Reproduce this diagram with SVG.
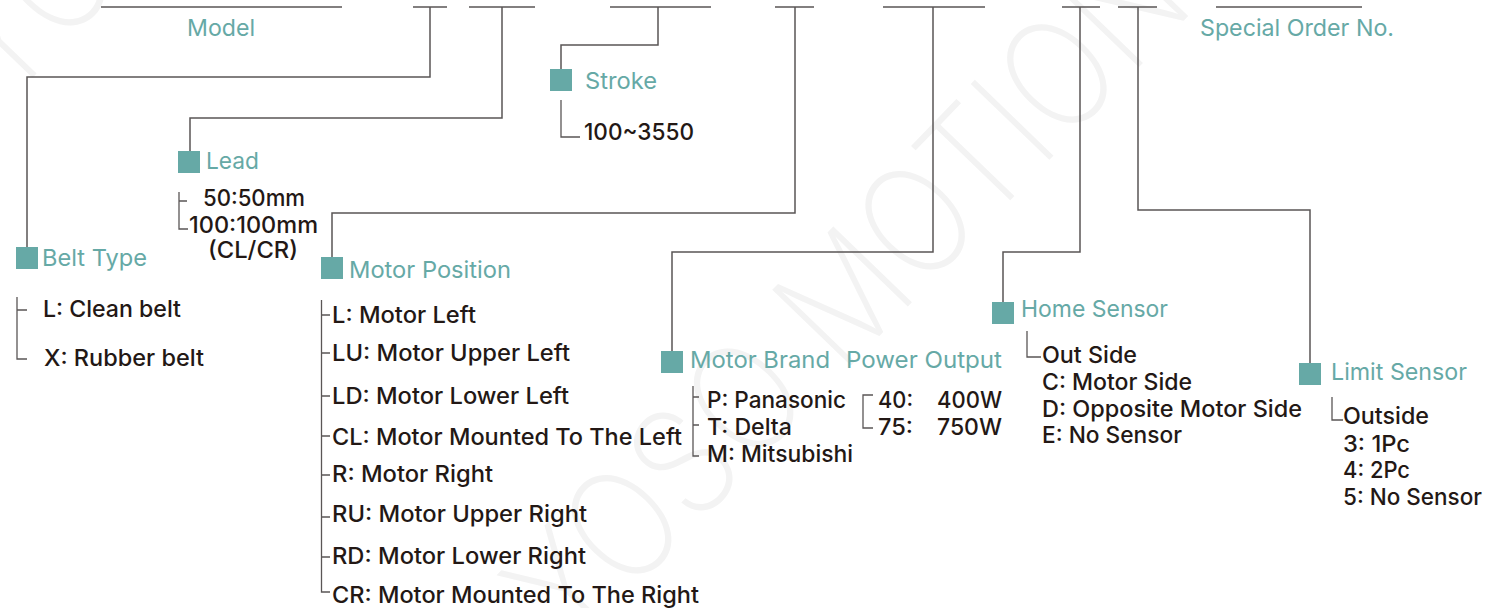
<svg xmlns="http://www.w3.org/2000/svg" width="1490" height="608" viewBox="0 0 1490 608">
<style>
.wm{font-family:Inter,"DejaVu Sans",sans-serif;font-weight:200;font-size:150px;fill:#f3f3f3}
.t{font-family:Inter,"Noto Sans",sans-serif;font-size:23.5px;fill:#66a9a6}
.b{font-family:Inter,"Noto Sans",sans-serif;font-size:23px;font-weight:500;fill:#231815}
.ln{fill:none;stroke:#595656;stroke-width:1.5}
.bk{fill:none;stroke:#5a5656;stroke-width:1.3}
.sq{fill:#66a9a6}
</style>
<rect width="1490" height="608" fill="#ffffff"/>
<g id="watermark">
<text class="wm" x="885" y="330" text-anchor="middle" textLength="900" lengthAdjust="spacingAndGlyphs" transform="rotate(-46 885 330)">YOSO MOTION</text>
<text class="wm" x="318" y="-218" text-anchor="middle" textLength="900" lengthAdjust="spacingAndGlyphs" transform="rotate(-46 318 -218)">YOSO MOTION</text>
</g>
<g id="connectors">
<path class="ln" d="M101,7H342M413,7H447M469,7H535M610,7H711M775,7H814M883,7H985M1062,7H1100M1118,7H1157M1216,7H1362"/>
<path class="ln" d="M430,7V77H27V248"/>
<path class="ln" d="M502,7V118H190V152"/>
<path class="ln" d="M658,7V45H561V70"/>
<path class="ln" d="M795,7V213H332V258"/>
<path class="ln" d="M933,7V252H672V352"/>
<path class="ln" d="M1080,7V252H1003V303"/>
<path class="ln" d="M1138,7V210H1310V364"/>
</g>
<g id="model"><text class="t" x="187" y="36" textLength="68" lengthAdjust="spacingAndGlyphs">Model</text></g>
<g id="special"><text class="t" x="1200" y="36" textLength="194" lengthAdjust="spacingAndGlyphs">Special Order No.</text></g>
<g id="belt-type">
<rect class="sq" x="16" y="247" width="22" height="22"/>
<text class="t" x="42" y="266" textLength="105" lengthAdjust="spacingAndGlyphs">Belt Type</text>
<path class="bk" d="M17,297V359H27M17,310H27"/>
<text class="b" x="43" y="317" textLength="138" lengthAdjust="spacingAndGlyphs">L: Clean belt</text>
<text class="b" x="44" y="366" textLength="160" lengthAdjust="spacingAndGlyphs">X: Rubber belt</text>
</g>
<g id="lead">
<rect class="sq" x="178" y="151" width="22" height="22"/>
<text class="t" x="206" y="169" textLength="53" lengthAdjust="spacingAndGlyphs">Lead</text>
<path class="bk" d="M179,192V229H188M179,201H187"/>
<text class="b" x="203" y="206" textLength="102" lengthAdjust="spacingAndGlyphs">50:50mm</text>
<text class="b" x="189" y="233" textLength="129" lengthAdjust="spacingAndGlyphs">100:100mm</text>
<text class="b" x="208" y="258" textLength="90" lengthAdjust="spacingAndGlyphs">(CL/CR)</text>
</g>
<g id="stroke">
<rect class="sq" x="550" y="69" width="22" height="22"/>
<text class="t" x="585" y="89" textLength="72" lengthAdjust="spacingAndGlyphs">Stroke</text>
<path class="bk" d="M561,100V137H580"/>
<text class="b" x="584" y="140" textLength="110" lengthAdjust="spacingAndGlyphs">100~3550</text>
</g>
<g id="motor-position">
<rect class="sq" x="321" y="257" width="22" height="22"/>
<text class="t" x="349" y="278" textLength="162" lengthAdjust="spacingAndGlyphs">Motor Position</text>
<path class="bk" d="M321.5,300V592H330M321.5,315H330M321.5,353H330M321.5,396H330M321.5,436H330M321.5,475H330M321.5,517H330M321.5,557H330"/>
<text class="b" x="332" y="323" textLength="144" lengthAdjust="spacingAndGlyphs">L: Motor Left</text>
<text class="b" x="332" y="361" textLength="238" lengthAdjust="spacingAndGlyphs">LU: Motor Upper Left</text>
<text class="b" x="332" y="404" textLength="237" lengthAdjust="spacingAndGlyphs">LD: Motor Lower Left</text>
<text class="b" x="332" y="445" textLength="350" lengthAdjust="spacingAndGlyphs">CL: Motor Mounted To The Left</text>
<text class="b" x="332" y="482" textLength="161" lengthAdjust="spacingAndGlyphs">R: Motor Right</text>
<text class="b" x="332" y="522" textLength="255" lengthAdjust="spacingAndGlyphs">RU: Motor Upper Right</text>
<text class="b" x="332" y="564" textLength="254" lengthAdjust="spacingAndGlyphs">RD: Motor Lower Right</text>
<text class="b" x="332" y="603" textLength="367" lengthAdjust="spacingAndGlyphs">CR: Motor Mounted To The Right</text>
</g>
<g id="motor-brand">
<rect class="sq" x="661" y="351" width="22" height="22"/>
<text class="t" x="690" y="368" textLength="140" lengthAdjust="spacingAndGlyphs">Motor Brand</text>
<path class="bk" d="M693,386V456H699M693,397H699M693,425H699"/>
<text class="b" x="707" y="408" textLength="139" lengthAdjust="spacingAndGlyphs">P: Panasonic</text>
<text class="b" x="707" y="435" textLength="85" lengthAdjust="spacingAndGlyphs">T: Delta</text>
<text class="b" x="707" y="462" textLength="146" lengthAdjust="spacingAndGlyphs">M: Mitsubishi</text>
</g>
<g id="power-output">
<text class="t" x="846" y="368" textLength="156" lengthAdjust="spacingAndGlyphs">Power Output</text>
<path class="bk" d="M873,395H863V428H873"/>
<text class="b" x="878" y="408" textLength="35" lengthAdjust="spacingAndGlyphs">40:</text>
<text class="b" x="937" y="408" textLength="65" lengthAdjust="spacingAndGlyphs">400W</text>
<text class="b" x="878" y="435" textLength="35" lengthAdjust="spacingAndGlyphs">75:</text>
<text class="b" x="937" y="435" textLength="65" lengthAdjust="spacingAndGlyphs">750W</text>
</g>
<g id="home-sensor">
<rect class="sq" x="992" y="302" width="22" height="22"/>
<text class="t" x="1021" y="317" textLength="147" lengthAdjust="spacingAndGlyphs">Home Sensor</text>
<path class="bk" d="M1027,331V357H1041"/>
<text class="b" x="1042" y="363" textLength="95" lengthAdjust="spacingAndGlyphs">Out Side</text>
<text class="b" x="1042" y="390" textLength="150" lengthAdjust="spacingAndGlyphs">C: Motor Side</text>
<text class="b" x="1042" y="417" textLength="260" lengthAdjust="spacingAndGlyphs">D: Opposite Motor Side</text>
<text class="b" x="1042" y="443" textLength="140" lengthAdjust="spacingAndGlyphs">E: No Sensor</text>
</g>
<g id="limit-sensor">
<rect class="sq" x="1299" y="363" width="22" height="22"/>
<text class="t" x="1331" y="380" textLength="136" lengthAdjust="spacingAndGlyphs">Limit Sensor</text>
<path class="bk" d="M1332,397V420H1343"/>
<text class="b" x="1343" y="424" textLength="86" lengthAdjust="spacingAndGlyphs">Outside</text>
<text class="b" x="1343" y="452" textLength="67" lengthAdjust="spacingAndGlyphs">3: 1Pc</text>
<text class="b" x="1343" y="478" textLength="67" lengthAdjust="spacingAndGlyphs">4: 2Pc</text>
<text class="b" x="1343" y="505" textLength="139" lengthAdjust="spacingAndGlyphs">5: No Sensor</text>
</g>
</svg>
